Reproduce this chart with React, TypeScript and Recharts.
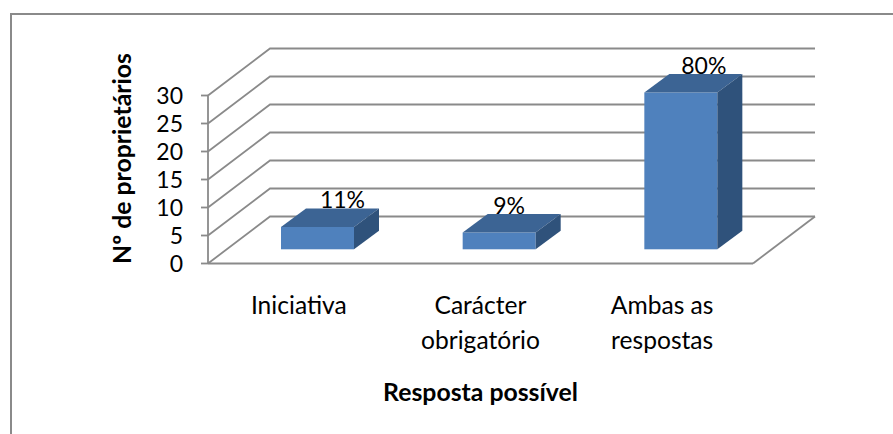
import * as React from "react"
import { Bar, BarChart, CartesianGrid, Label, LabelList, XAxis, YAxis } from "recharts"

const categories = ["Iniciativa", "Carácter\nobrigatório", "Ambas as\nrespostas"]
const owners = [4, 3, 28]
const percentLabels = ["11%", "9%", "80%"]
const yTicks = [0, 5, 10, 15, 20, 25, 30]

const chartData = categories.map((name, i) => ({ name, owners: owners[i], percent: percentLabels[i] }))

const AXIS_GREY = "#8a8a8a"
const FONT = "Lato, Carlito, sans-serif"
const CATEGORY_SIZE = 24.6
const VALUE_SIZE = 23
const TITLE_SIZE = 24.8

// fake 3D: depth of the whole floor, and where the bars stand on it
const WALL_DX = 62
const WALL_DY = 47
const BAR_DX = 19
const BAR_DY = 14.2
const BAR_DEPTH_X = 25
const BAR_DEPTH_Y = 18.5
const labelShift = [25, 10, 23]

const pts = (list: number[][]) => list.map((p) => p.join(",")).join(" ")

const Bar3D = ({ x, y, width, height }: any) => {
    const left = x + BAR_DX
    const right = left + width
    const top = y - BAR_DY
    const bottom = top + height
    return (
        <g>
            <rect x={left} y={top} width={width} height={height} fill="#4f81bd" />
            <polygon
                points={pts([[left, top], [left + BAR_DEPTH_X, top - BAR_DEPTH_Y], [right + BAR_DEPTH_X, top - BAR_DEPTH_Y], [right, top]])}
                fill="#3c6494"
            />
            <polygon
                points={pts([[right, top], [right + BAR_DEPTH_X, top - BAR_DEPTH_Y], [right + BAR_DEPTH_X, bottom - BAR_DEPTH_Y], [right, bottom]])}
                fill="#2f527b"
            />
        </g>
    )
}

// gridlines run along the left wall and then across the back wall
const WallLine = ({ x1, x2, y1, index }: any) => (
    <g>
        <polyline
            points={pts([[x1, y1], [x1 + WALL_DX, y1 - WALL_DY], [x2 + WALL_DX, y1 - WALL_DY]])}
            fill="none"
            stroke={AXIS_GREY}
            strokeWidth={1.8}
        />
        {index === 0 && (
            <line x1={x2} y1={y1} x2={x2 + WALL_DX} y2={y1 - WALL_DY} stroke={AXIS_GREY} strokeWidth={1.8} />
        )}
    </g>
)

const CategoryTick = ({ x, y, payload }: any) => (
    <text x={x} y={y} textAnchor="middle" fontSize={CATEGORY_SIZE} fontFamily={FONT} fill="#000">
        {String(payload.value)
            .split("\n")
            .map((line, i) => (
                <tspan key={line} x={x} dy={i === 0 ? 0 : 35}>
                    {line}
                </tspan>
            ))}
    </text>
)

const PercentLabel = ({ x, y, width, index }: any) => (
    <text
        x={x + BAR_DX + width / 2 + labelShift[index]}
        y={y - BAR_DY - 18.5}
        textAnchor="middle"
        fontSize={VALUE_SIZE}
        fontFamily={FONT}
        fill="#000"
    >
        {percentLabels[index]}
    </text>
)

export default function App() {
    return (
        <div style={{ position: "fixed", left: 0, top: 0, width: 893, height: 434, overflow: "hidden", background: "#fff" }}>
            <div
                style={{
                    position: "absolute",
                    left: 10,
                    top: 13,
                    width: 1000,
                    height: 600,
                    borderLeft: `2px solid ${AXIS_GREY}`,
                    borderTop: `2px solid ${AXIS_GREY}`,
                }}
            />
            <div style={{ position: "absolute", left: 0, top: 0 }}>
                <BarChart
                    width={893}
                    height={434}
                    data={chartData}
                    margin={{ top: 95.5, right: 140, bottom: 0, left: 0 }}
                    barSize={73}
                >
                    <CartesianGrid vertical={false} horizontal={(props: any) => <WallLine key={props.key} {...props} />} />
                    <XAxis
                        dataKey="name"
                        height={170.5}
                        interval={0}
                        axisLine={{ stroke: AXIS_GREY, strokeWidth: 1.8 }}
                        tickLine={false}
                        tickMargin={44}
                        tick={<CategoryTick />}
                    >
                        <Label
                            value="Resposta possível"
                            position="center"
                            dy={43}
                            fontSize={TITLE_SIZE}
                            fontWeight={700}
                            fontFamily={FONT}
                            fill="#000"
                        />
                    </XAxis>
                    <YAxis
                        width={208}
                        domain={[0, 30]}
                        ticks={yTicks}
                        interval={0}
                        axisLine={{ stroke: AXIS_GREY, strokeWidth: 1.8 }}
                        tickLine={{ stroke: AXIS_GREY, strokeWidth: 1.8 }}
                        tickSize={7}
                        tickMargin={18}
                        tick={{ fontSize: VALUE_SIZE, fontFamily: FONT, fill: "#000" }}
                    >
                        <Label
                            value="Nº de proprietários"
                            angle={-90}
                            position="center"
                            dx={18}
                            dy={-21}
                            fontSize={TITLE_SIZE}
                            fontWeight={700}
                            fontFamily={FONT}
                            fill="#000"
                        />
                    </YAxis>
                    <Bar dataKey="owners" shape={<Bar3D />} isAnimationActive={false}>
                        <LabelList dataKey="percent" content={<PercentLabel />} />
                    </Bar>
                </BarChart>
            </div>
        </div>
    )
}
